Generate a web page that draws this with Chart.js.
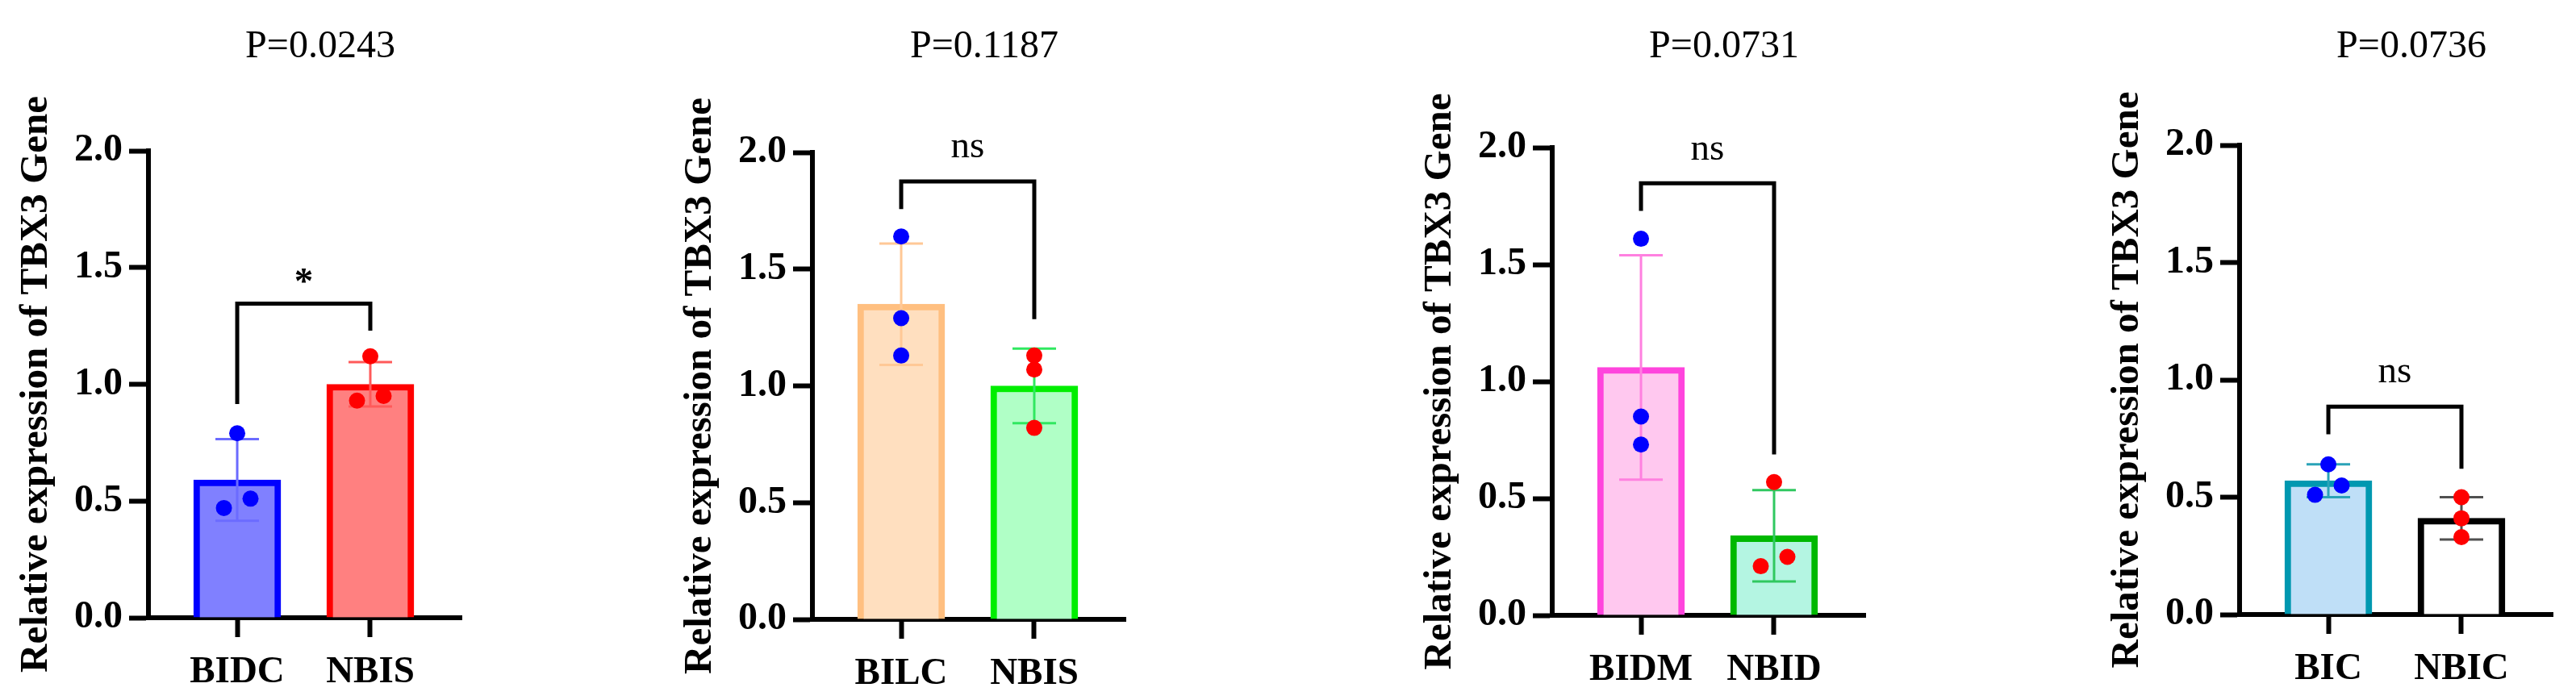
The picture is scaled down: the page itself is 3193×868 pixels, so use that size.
<!DOCTYPE html>
<html>
<head>
<meta charset="utf-8">
<title>Relative expression of TBX3 Gene</title>
<script src="https://cdn.jsdelivr.net/npm/chart.js@4.4.1/dist/chart.umd.min.js"></script>
<style>
  html, body { margin: 0; padding: 0; background: #fff; overflow: hidden; }
  body { width: 3193px; height: 868px; position: relative; }
  .panel { position: absolute; top: 0; width: 786px; height: 868px; }
</style>
</head>
<body>
<div class="panel" style="left:4px"><canvas id="chart0"></canvas></div>
<div class="panel" style="left:827px"><canvas id="chart1"></canvas></div>
<div class="panel" style="left:1744px"><canvas id="chart2"></canvas></div>
<div class="panel" style="left:2596px"><canvas id="chart3"></canvas></div>
<script>
// ---- data ----
const pTitles = ['P=0.0243', 'P=0.1187', 'P=0.0731', 'P=0.0736'];
const groupNames = [['BIDC', 'NBIS'], ['BILC', 'NBIS'], ['BIDM', 'NBID'], ['BIC', 'NBIC']];
const meanValues = [[0.59, 1.00], [1.35, 1.00], [1.06, 0.34], [0.57, 0.41]];
const sdValues = [[0.175, 0.095], [0.26, 0.16], [0.48, 0.195], [0.07, 0.09]];
// three replicates per group, with their small sideways jitter
const pointsA = [[0.79, 0.47, 0.51], [1.64, 1.29, 1.13], [1.61, 0.85, 0.73], [0.64, 0.51, 0.55]];
const pointsB = [[1.12, 0.93, 0.95], [1.13, 1.07, 0.82], [0.57, 0.21, 0.25], [0.50, 0.41, 0.33]];
const jitterA = [[0, -0.1, 0.1], [0, 0, 0], [0, 0, 0], [0, -0.1, 0.1]];
const jitterB = [[0, -0.1, 0.1], [0, 0, 0], [0, -0.1, 0.1], [0, 0, 0]];
// significance bracket: [top, left leg end, right leg end]
const brackets = [[1.345, 0.915, 1.23], [1.876, 1.757, 1.286], [1.847, 1.729, 0.688], [0.886, 0.768, 0.621]];
const sigLabels = ['*', 'ns', 'ns', 'ns'];
const sigLabelY = [1.39, 1.98, 1.95, 0.99];   // text baseline
const yTickValues = [0, 0.5, 1, 1.5, 2];
const yTickLabels = ['0.0', '0.5', '1.0', '1.5', '2.0'];

// ---- styling ----
const fillColors = [['#8080ff', '#ff8080'], ['#ffdfbf', '#b0ffc6'], ['#ffc8ef', '#b4f5e2'], ['#bfdff7', '#ffffff']];
const edgeColors = [['#0000ff', '#ff0000'], ['#ffbf80', '#00ee00'], ['#ff44dd', '#00b800'], ['#0098b0', '#000000']];
const errColors = [['#6b6bff', '#ff5a5a'], ['#ffc896', '#30e860'], ['#ff80e0', '#30c860'], ['#2aa3b8', '#505050']];
const dotColors = ['#0000ff', '#ff0000'];

// layout of each panel in the page (plot area top / bottom in px)
const areaTop = [187, 189, 183, 180];
const areaBottom = [766, 768, 763, 762];
const pageHeight = 868;

Chart.defaults.font.family = "'Liberation Serif', 'Times New Roman', serif";
Chart.defaults.color = '#000';

function makePanel(p) {
    var ctx = document.getElementById('chart' + p).getContext('2d');

    var barData = meanValues[p].map(function(m, i) { return {x: i, y: m}; });
    var dots = [];
    var dotCol = [];
    pointsA[p].forEach(function(v, k) { dots.push({x: jitterA[p][k], y: v}); dotCol.push(dotColors[0]); });
    pointsB[p].forEach(function(v, k) { dots.push({x: 1 + jitterB[p][k], y: v}); dotCol.push(dotColors[1]); });

    // mean +/- SD whiskers, drawn right after the bars so the dots sit on top
    var errorBars = {
        id: 'errorBars' + p,
        afterDatasetDraw: function(chart, args) {
            if (args.index !== 0) return;
            var c = chart.ctx, xs = chart.scales.x, ys = chart.scales.y;
            c.save();
            c.lineWidth = 3;
            meanValues[p].forEach(function(m, i) {
                var x = xs.getPixelForValue(i);
                var yHi = ys.getPixelForValue(m + sdValues[p][i]);
                var yLo = ys.getPixelForValue(m - sdValues[p][i]);
                c.strokeStyle = errColors[p][i];
                c.beginPath();
                c.moveTo(x, yHi); c.lineTo(x, yLo);
                c.moveTo(x - 27, yHi); c.lineTo(x + 27, yHi);
                c.moveTo(x - 27, yLo); c.lineTo(x + 27, yLo);
                c.stroke();
            });
            c.restore();
        }
    };

    // comparison bracket with its label
    var bracket = {
        id: 'bracket' + p,
        afterDraw: function(chart) {
            var c = chart.ctx, xs = chart.scales.x, ys = chart.scales.y;
            var b = brackets[p];
            var x0 = xs.getPixelForValue(0), x1 = xs.getPixelForValue(1);
            var yTop = ys.getPixelForValue(b[0]);
            c.save();
            c.strokeStyle = '#000';
            c.lineWidth = 5;
            c.lineJoin = 'miter';
            c.beginPath();
            c.moveTo(x0, ys.getPixelForValue(b[1]));
            c.lineTo(x0, yTop);
            c.lineTo(x1, yTop);
            c.lineTo(x1, ys.getPixelForValue(b[2]));
            c.stroke();
            c.fillStyle = '#000';
            c.textAlign = 'center';
            c.textBaseline = 'alphabetic';
            c.font = (sigLabels[p] === '*' ? 'bold ' : '') + "47px 'Liberation Serif', serif";
            c.fillText(sigLabels[p], (x0 + x1) / 2, ys.getPixelForValue(sigLabelY[p]));
            c.restore();
        }
    };

    return new Chart(ctx, {
        type: 'bar',
        data: {
            datasets: [{
                type: 'bar',
                data: barData,
                backgroundColor: fillColors[p],
                borderColor: edgeColors[p],
                borderWidth: 8,
                barThickness: 108,
                order: 2
            }, {
                type: 'scatter',
                data: dots,
                pointRadius: 10,
                pointHoverRadius: 10,
                pointBackgroundColor: dotCol,
                pointBorderWidth: 0,
                showLine: false,
                clip: false,
                order: 1
            }]
        },
        options: {
            responsive: true,
            maintainAspectRatio: false,
            animation: false,
            events: [],
            layout: { padding: 0 },
            plugins: {
                legend: { display: false },
                tooltip: { enabled: false },
                title: {
                    display: true,
                    text: pTitles[p],
                    color: '#000',
                    font: { size: 48, weight: 'normal' },
                    padding: { top: 30, bottom: areaTop[p] - 30 - 57.6 }
                }
            },
            scales: {
                x: {
                    type: 'linear',
                    offset: false,
                    min: -0.667,
                    max: 1.685,
                    afterBuildTicks: function(s) { s.ticks = [{value: 0}, {value: 1}]; },
                    afterFit: function(s) { s.height = pageHeight - areaBottom[p]; },
                    ticks: {
                        callback: function(v, i) { return groupNames[p][i]; },
                        color: '#000',
                        font: { size: 47, weight: 'bold' },
                        padding: 16,
                        autoSkip: false,
                        maxRotation: 0
                    },
                    grid: { offset: false, drawOnChartArea: false, drawTicks: true, tickLength: 24, tickWidth: 6, tickColor: '#000' },
                    border: { display: true, color: '#000', width: 6 }
                },
                y: {
                    min: 0,
                    max: 2,
                    afterBuildTicks: function(s) { s.ticks = yTickValues.map(function(v) { return {value: v}; }); },
                    afterFit: function(s) { s.width = 180; },
                    ticks: {
                        callback: function(v, i) { return yTickLabels[i]; },
                        color: '#000',
                        font: { size: 48, weight: 'bold' },
                        padding: 8
                    },
                    grid: { drawOnChartArea: false, drawTicks: true, tickLength: 24, tickWidth: 6, tickColor: '#000' },
                    border: { display: true, color: '#000', width: 6 },
                    title: {
                        display: true,
                        text: 'Relative expression of TBX3 Gene',
                        color: '#000',
                        font: { size: 49, weight: 'bold' },
                        padding: { top: 12, bottom: 0 }
                    }
                },
                // empty right-hand spacer so the P-value title lands where it does in the figure
                pad: {
                    type: 'linear',
                    position: 'right',
                    display: true,
                    ticks: { display: false },
                    grid: { display: false },
                    border: { display: false },
                    afterFit: function(s) { s.width = 218; }
                }
            }
        },
        plugins: [errorBars, bracket]
    });
}

for (var p = 0; p < 4; p++) makePanel(p);
</script>
</body>
</html>
